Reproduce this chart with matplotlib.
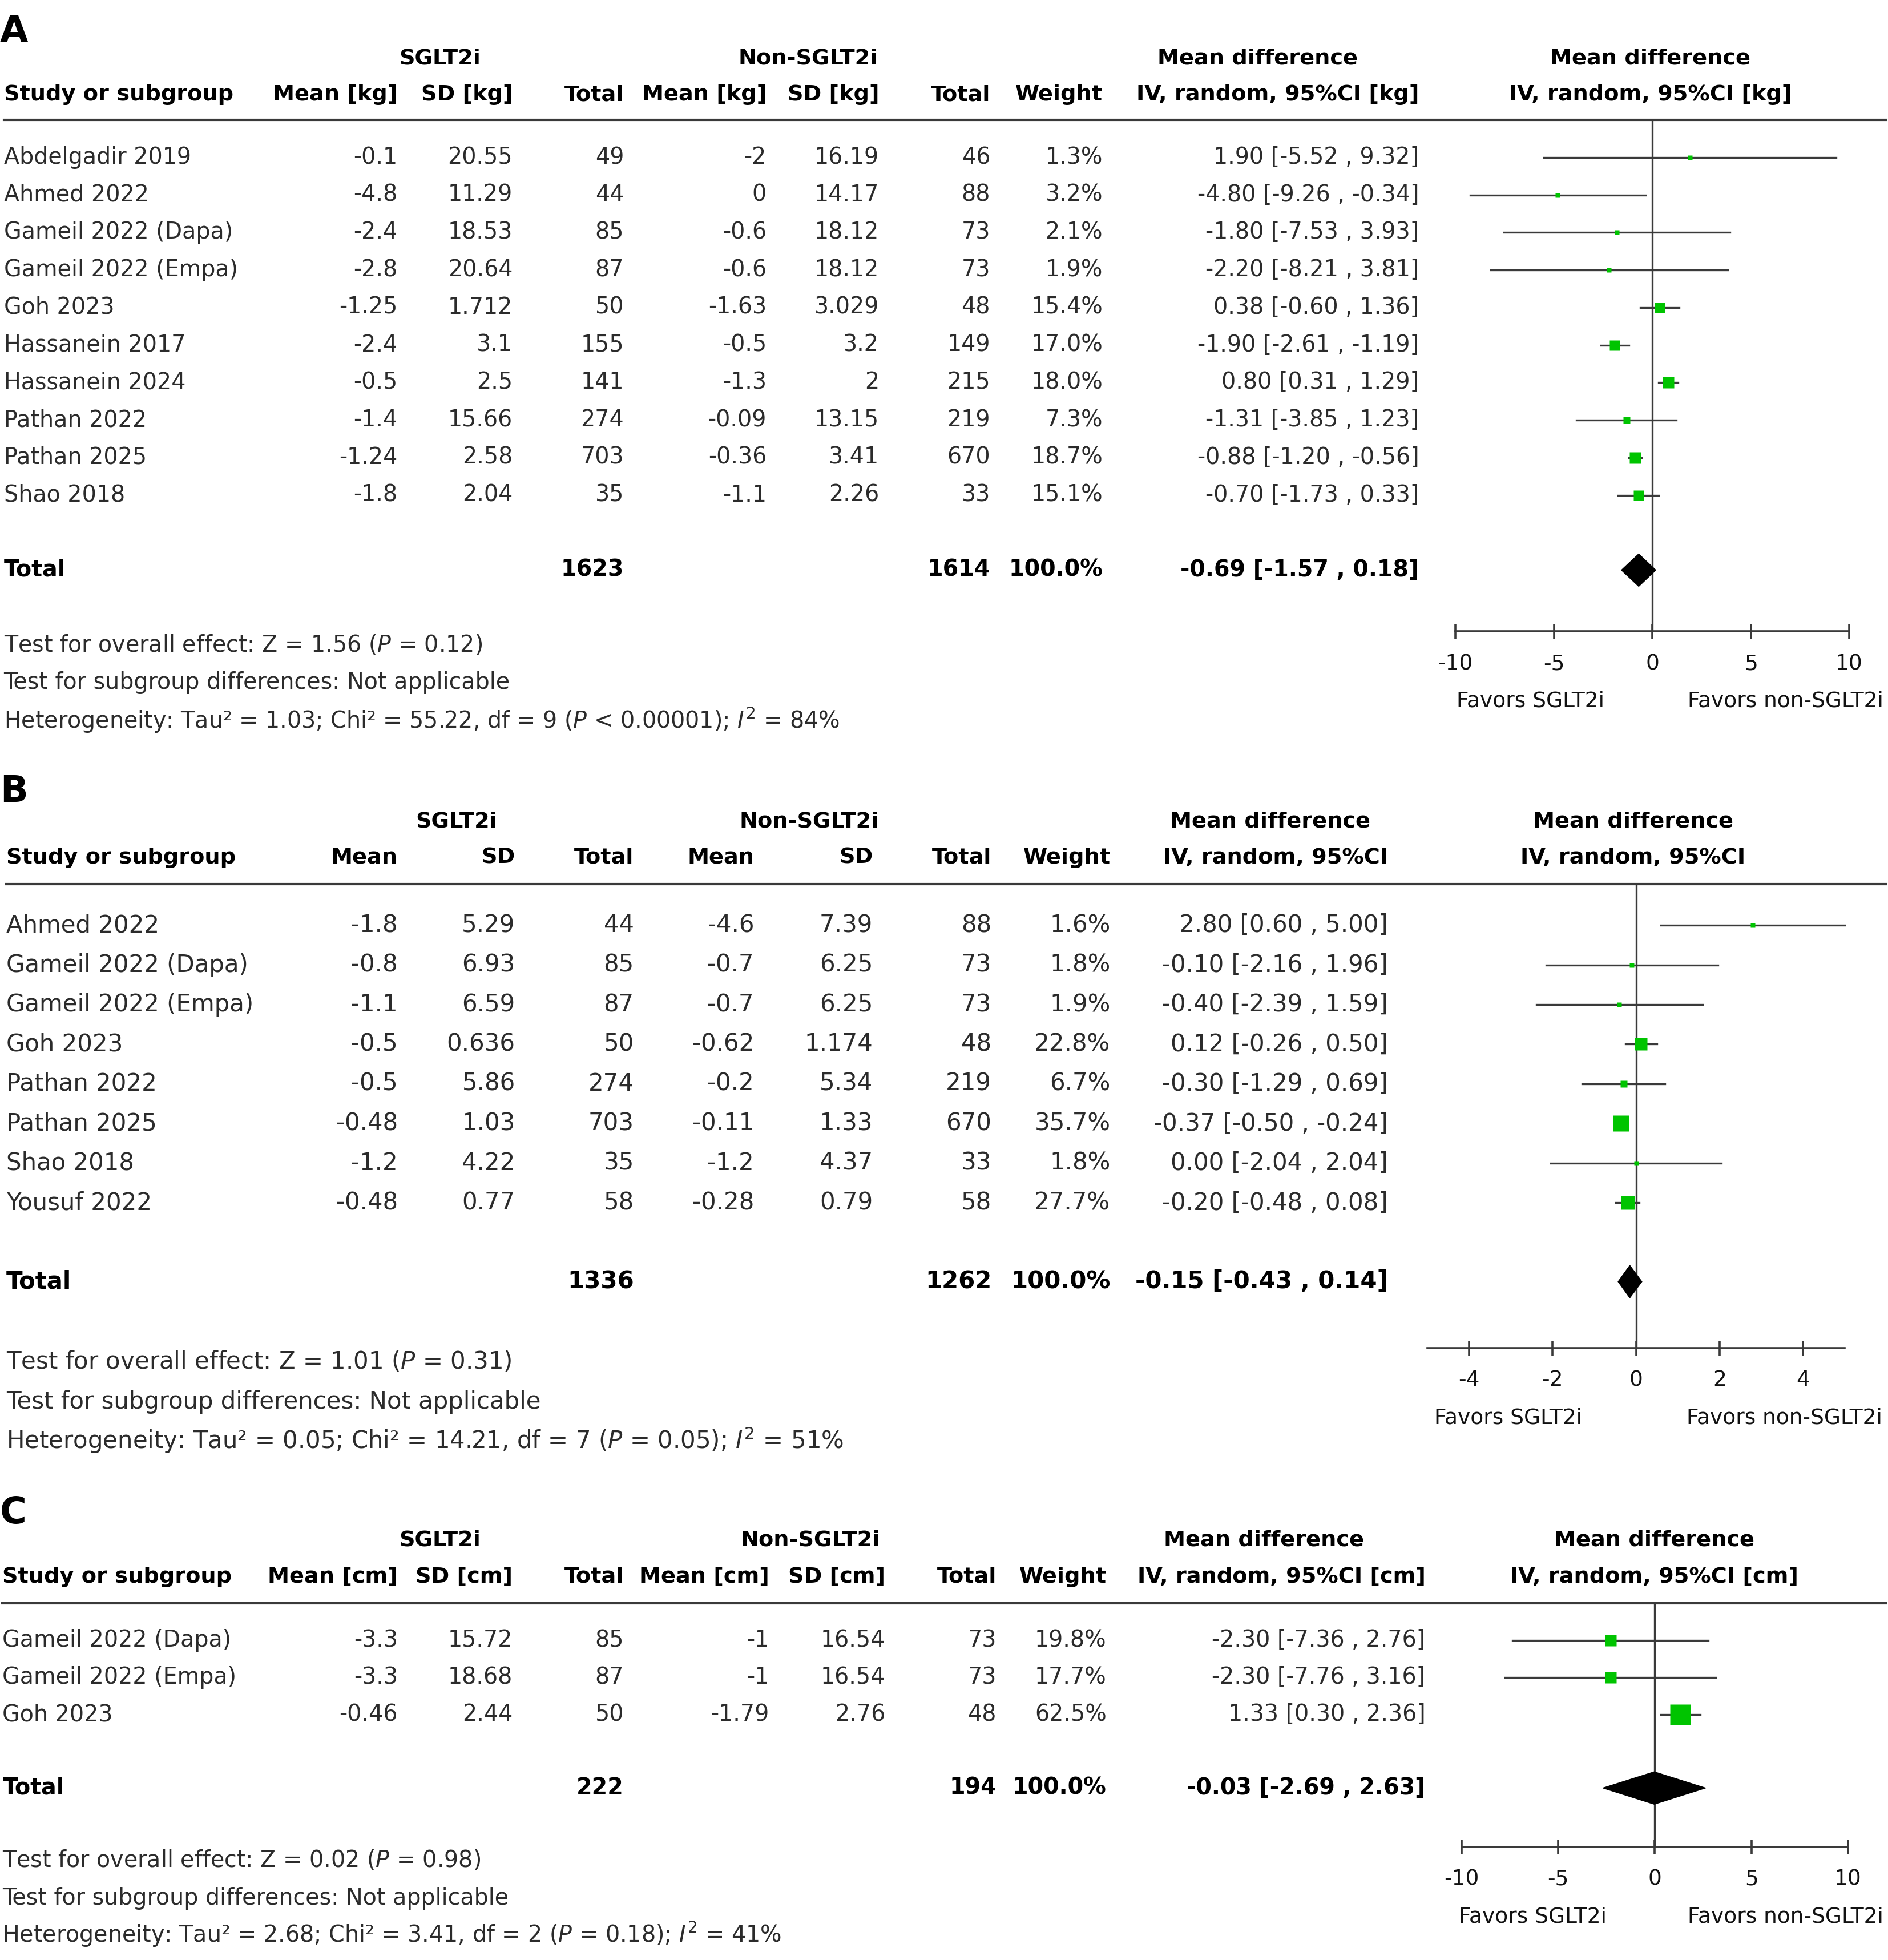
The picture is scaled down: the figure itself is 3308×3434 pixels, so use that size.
import matplotlib
matplotlib.use("Agg")
import matplotlib.pyplot as plt
from matplotlib.patches import Polygon

plt.rcParams['font.family'] = ['DejaVu Sans']
plt.rcParams['mathtext.fontset'] = 'dejavusans'
plt.rcParams['axes.unicode_minus'] = False

# ---------------- data: panel A (body weight, kg) ----------------
studies_a = ["Abdelgadir 2019", "Ahmed 2022", "Gameil 2022 (Dapa)", "Gameil 2022 (Empa)",
             "Goh 2023", "Hassanein 2017", "Hassanein 2024", "Pathan 2022", "Pathan 2025", "Shao 2018"]
sg_mean_a = ["-0.1", "-4.8", "-2.4", "-2.8", "-1.25", "-2.4", "-0.5", "-1.4", "-1.24", "-1.8"]
sg_sd_a = ["20.55", "11.29", "18.53", "20.64", "1.712", "3.1", "2.5", "15.66", "2.58", "2.04"]
sg_n_a = [49, 44, 85, 87, 50, 155, 141, 274, 703, 35]
ns_mean_a = ["-2", "0", "-0.6", "-0.6", "-1.63", "-0.5", "-1.3", "-0.09", "-0.36", "-1.1"]
ns_sd_a = ["16.19", "14.17", "18.12", "18.12", "3.029", "3.2", "2", "13.15", "3.41", "2.26"]
ns_n_a = [46, 88, 73, 73, 48, 149, 215, 219, 670, 33]
weight_a = [1.3, 3.2, 2.1, 1.9, 15.4, 17.0, 18.0, 7.3, 18.7, 15.1]
md_a = [1.90, -4.80, -1.80, -2.20, 0.38, -1.90, 0.80, -1.31, -0.88, -0.70]
lo_a = [-5.52, -9.26, -7.53, -8.21, -0.60, -2.61, 0.31, -3.85, -1.20, -1.73]
hi_a = [9.32, -0.34, 3.93, 3.81, 1.36, -1.19, 1.29, 1.23, -0.56, 0.33]
total_a = [1623, 1614, -0.69, -1.57, 0.18]
notes_a = ["Test for overall effect: Z = 1.56 ($\\mathit{P}$ = 0.12)",
           "Test for subgroup differences: Not applicable",
           "Heterogeneity: Tau² = 1.03; Chi² = 55.22, df = 9 ($\\mathit{P}$ < 0.00001); $\\mathit{I}^2$ = 84%"]

# ---------------- data: panel B (BMI) ----------------
studies_b = ["Ahmed 2022", "Gameil 2022 (Dapa)", "Gameil 2022 (Empa)", "Goh 2023",
             "Pathan 2022", "Pathan 2025", "Shao 2018", "Yousuf 2022"]
sg_mean_b = ["-1.8", "-0.8", "-1.1", "-0.5", "-0.5", "-0.48", "-1.2", "-0.48"]
sg_sd_b = ["5.29", "6.93", "6.59", "0.636", "5.86", "1.03", "4.22", "0.77"]
sg_n_b = [44, 85, 87, 50, 274, 703, 35, 58]
ns_mean_b = ["-4.6", "-0.7", "-0.7", "-0.62", "-0.2", "-0.11", "-1.2", "-0.28"]
ns_sd_b = ["7.39", "6.25", "6.25", "1.174", "5.34", "1.33", "4.37", "0.79"]
ns_n_b = [88, 73, 73, 48, 219, 670, 33, 58]
weight_b = [1.6, 1.8, 1.9, 22.8, 6.7, 35.7, 1.8, 27.7]
md_b = [2.80, -0.10, -0.40, 0.12, -0.30, -0.37, 0.00, -0.20]
lo_b = [0.60, -2.16, -2.39, -0.26, -1.29, -0.50, -2.04, -0.48]
hi_b = [5.00, 1.96, 1.59, 0.50, 0.69, -0.24, 2.04, 0.08]
total_b = [1336, 1262, -0.15, -0.43, 0.14]
notes_b = ["Test for overall effect: Z = 1.01 ($\\mathit{P}$ = 0.31)",
           "Test for subgroup differences: Not applicable",
           "Heterogeneity: Tau² = 0.05; Chi² = 14.21, df = 7 ($\\mathit{P}$ = 0.05); $\\mathit{I}^2$ = 51%"]

# ---------------- data: panel C (waist, cm) ----------------
studies_c = ["Gameil 2022 (Dapa)", "Gameil 2022 (Empa)", "Goh 2023"]
sg_mean_c = ["-3.3", "-3.3", "-0.46"]
sg_sd_c = ["15.72", "18.68", "2.44"]
sg_n_c = [85, 87, 50]
ns_mean_c = ["-1", "-1", "-1.79"]
ns_sd_c = ["16.54", "16.54", "2.76"]
ns_n_c = [73, 73, 48]
weight_c = [19.8, 17.7, 62.5]
md_c = [-2.30, -2.30, 1.33]
lo_c = [-7.36, -7.76, 0.30]
hi_c = [2.76, 3.16, 2.36]
total_c = [222, 194, -0.03, -2.69, 2.63]
notes_c = ["Test for overall effect: Z = 0.02 ($\\mathit{P}$ = 0.98)",
           "Test for subgroup differences: Not applicable",
           "Heterogeneity: Tau² = 2.68; Chi² = 3.41, df = 2 ($\\mathit{P}$ = 0.18); $\\mathit{I}^2$ = 41%"]

# layout works in a 1510-wide canvas, scaled onto the 3308x3434 figure
W = 1510.0
S = 3308 / W
H = 3434 / S
GREEN = '#00c400'
TXT = '#2b2b2b'
LINE = '#3a3a3a'
HFS = 27.5

fig = plt.figure(figsize=(33.08, 34.34), dpi=100)
base = fig.add_axes([0, 0, 1, 1])
base.set_xlim(0, W)
base.set_ylim(H, 0)
base.axis('off')


def ci_text(m, l, h):
    return f"{m:.2f} [{l:.2f} , {h:.2f}]"


def panel(letter, ly, unit, studies, cols, x_left, rights, y_h1, y_h2, y_line,
          y0, dy, y_tot, fs, h1_x, fx, ticks, vlim, ax_y, fav_x):
    # panel letter
    base.text(0, ly, letter, fontsize=46, fontweight='bold', va='center', ha='left', color='black')
    # headers
    base.text(h1_x[0], y_h1, "SGLT2i", fontsize=HFS, fontweight='bold', ha='center', va='center')
    base.text(h1_x[1], y_h1, "Non-SGLT2i", fontsize=HFS, fontweight='bold', ha='center', va='center')
    base.text(h1_x[2], y_h1, "Mean difference", fontsize=HFS, fontweight='bold', ha='center', va='center')
    base.text(h1_x[3], y_h1, "Mean difference", fontsize=HFS, fontweight='bold', ha='center', va='center')
    u = f" [{unit}]" if unit else ""
    heads = [f"Mean{u}", f"SD{u}", "Total", f"Mean{u}", f"SD{u}", "Total", "Weight",
             f"IV, random, 95%CI{u}"]
    base.text(x_left, y_h2, "Study or subgroup", fontsize=HFS, fontweight='bold', ha='left', va='center')
    for h, xr in zip(heads, rights):
        base.text(xr, y_h2, h, fontsize=HFS, fontweight='bold', ha='right', va='center')
    base.text(h1_x[3], y_h2, f"IV, random, 95%CI{u}", fontsize=HFS, fontweight='bold',
              ha='center', va='center')
    base.plot([x_left, 1508], [y_line, y_line], color=LINE, lw=3)

    sg_mean, sg_sd, sg_n, ns_mean, ns_sd, ns_n, weight, md, lo, hi, total = cols
    ys = [y0 + i * dy for i in range(len(studies))]
    for i, y in enumerate(ys):
        base.text(x_left, y, studies[i], fontsize=fs, color=TXT, ha='left', va='center')
        vals = [sg_mean[i], sg_sd[i], str(sg_n[i]), ns_mean[i], ns_sd[i], str(ns_n[i]),
                f"{weight[i]:.1f}%", ci_text(md[i], lo[i], hi[i])]
        for v, xr in zip(vals, rights):
            base.text(xr, y, v, fontsize=fs, color=TXT, ha='right', va='center')
    # total row
    base.text(x_left, y_tot, "Total", fontsize=fs, fontweight='bold', ha='left', va='center')
    base.text(rights[2], y_tot, str(total[0]), fontsize=fs, fontweight='bold', ha='right', va='center')
    base.text(rights[5], y_tot, str(total[1]), fontsize=fs, fontweight='bold', ha='right', va='center')
    base.text(rights[6], y_tot, "100.0%", fontsize=fs, fontweight='bold', ha='right', va='center')
    base.text(rights[7], y_tot, ci_text(total[2], total[3], total[4]), fontsize=fs,
              fontweight='bold', ha='right', va='center')

    # forest plot axes: x in effect units, y in canvas units
    (px0, v0), (px1, v1) = fx
    ax = fig.add_axes([px0 / W, 1 - ax_y / H, (px1 - px0) / W, (ax_y - y_line) / H])
    ax.set_xlim(v0, v1)
    ax.set_ylim(ax_y, y_line)
    ax.patch.set_alpha(0)
    for s in ['top', 'left', 'right']:
        ax.spines[s].set_visible(False)
    ax.spines['bottom'].set_bounds(vlim[0], vlim[1])
    ax.spines['bottom'].set_linewidth(2.6)
    ax.spines['bottom'].set_color(LINE)
    ax.set_yticks([])
    ax.set_xticks(ticks)
    ax.set_xticklabels([str(t) for t in ticks])
    ax.tick_params(axis='x', direction='inout', length=18, width=2.6, color=LINE,
                   labelsize=27, pad=19, labelcolor='#111111')
    ax.axvline(0, color=LINE, lw=2.4, zorder=1)
    for i, y in enumerate(ys):
        ax.plot([lo[i], hi[i]], [y, y], color=LINE, lw=2.4, zorder=2, clip_on=False)
        side = max(4.0, 2.1 * weight[i] ** 0.5)
        ax.plot(md[i], y, marker='s', ms=side * S * 0.72, color=GREEN, mec='none',
                zorder=3, clip_on=False)
    hh = 13
    ax.add_patch(Polygon([(total[3], y_tot), (total[2], y_tot - hh), (total[4], y_tot),
                          (total[2], y_tot + hh)], closed=True, color='black', zorder=4))
    base.text(fav_x[0], ax_y + 56, "Favors SGLT2i", fontsize=27, color='#111111', ha='center', va='center')
    base.text(fav_x[1], ax_y + 56, "Favors non-SGLT2i", fontsize=27, color='#111111', ha='center', va='center')


def notes_block(notes, x_left, y_notes, fs):
    for k, n in enumerate(notes):
        base.text(x_left, y_notes[k], n, fontsize=fs, color=TXT, ha='left', va='center')


panel("A", 26, "kg", studies_a,
      [sg_mean_a, sg_sd_a, sg_n_a, ns_mean_a, ns_sd_a, ns_n_a, weight_a, md_a, lo_a, hi_a, total_a],
      3, [318, 410, 499, 613, 703, 792, 882, 1135], 47, 76, 96,
      126, 30, 456, 28.5, [352, 646, 1006, 1320],
      ((1164, -10), (1479, 10)), [-10, -5, 0, 5, 10], (-10, 10), 505, (1224, 1428))
notes_block(notes_a, 3, [516, 546, 576], 28.5)

panel("B", 633, "", studies_b,
      [sg_mean_b, sg_sd_b, sg_n_b, ns_mean_b, ns_sd_b, ns_n_b, weight_b, md_b, lo_b, hi_b, total_b],
      5, [318, 412, 507, 603, 698, 793, 888, 1110], 657, 686, 707,
      740, 31.7, 1025, 30.2, [365, 647, 1016, 1306],
      ((1175, -4), (1442, 4)), [-4, -2, 0, 2, 4], (-5, 5), 1078, (1206, 1427))
notes_block(notes_b, 5, [1089, 1121, 1152], 30.2)

panel("C", 1210, "cm", studies_c,
      [sg_mean_c, sg_sd_c, sg_n_c, ns_mean_c, ns_sd_c, ns_n_c, weight_c, md_c, lo_c, hi_c, total_c],
      2, [318, 410, 499, 615, 708, 797, 885, 1140], 1232, 1261, 1282,
      1312, 29.7, 1430, 28.5, [352, 648, 1011, 1323],
      ((1169, -10), (1478, 10)), [-10, -5, 0, 5, 10], (-10, 10), 1477, (1226, 1428))
notes_block(notes_c, 2, [1488, 1518, 1547], 28.5)

fig.savefig("out.png", dpi=100)
